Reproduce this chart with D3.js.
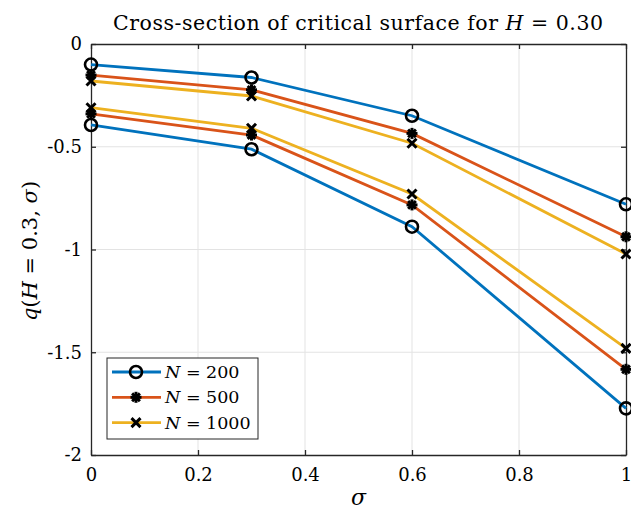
<!DOCTYPE html>
<html>
<head>
<meta charset="utf-8">
<script src="https://cdn.jsdelivr.net/npm/d3@7"></script>
<style>
body { margin: 0; background: #fff; }
text { font-family: "DejaVu Serif", "Liberation Serif", serif; fill: #000; }
</style>
</head>
<body>
<script>
// data
var sigma = [0, 0.3, 0.6, 1];
var xTicks = [0, 0.2, 0.4, 0.6, 0.8, 1];
var yTicks = [0, -0.5, -1, -1.5, -2];
var n200a = [-0.10, -0.163, -0.349, -0.78];
var n500a = [-0.151, -0.223, -0.435, -0.938];
var n1000a = [-0.18, -0.253, -0.483, -1.022];
var n1000b = [-0.31, -0.41, -0.73, -1.481];
var n500b = [-0.34, -0.443, -0.783, -1.583];
var n200b = [-0.394, -0.512, -0.889, -1.773];
var labels = ["200", "500", "1000"];

var W = 631, H = 519;
var L = 91, R = 626, T = 44, B = 455;
var colors = ["#0072BD", "#D95319", "#EDB120"];
var markers = ["o", "*", "x"];

var svg = d3.select("body").append("svg").attr("width", W).attr("height", H);
var x = d3.scaleLinear().domain([0, 1]).range([L, R]);
var y = d3.scaleLinear().domain([-2, 0]).range([B, T]);

// grid
svg.append("g").selectAll("line").data(xTicks.slice(1, -1)).enter().append("line")
  .attr("x1", d => x(d)).attr("x2", d => x(d)).attr("y1", T).attr("y2", B)
  .attr("stroke", "#e3e3e3").attr("stroke-width", 1);
svg.append("g").selectAll("line").data(yTicks.slice(1, -1)).enter().append("line")
  .attr("y1", d => y(d)).attr("y2", d => y(d)).attr("x1", L).attr("x2", R)
  .attr("stroke", "#e3e3e3").attr("stroke-width", 1);

// axes
var xa = svg.append("g").attr("transform", "translate(0," + B + ")")
  .call(d3.axisBottom(x).tickValues(xTicks).tickSizeInner(-5).tickSizeOuter(0).tickPadding(13).tickFormat(d => d));
var xt = svg.append("g").attr("transform", "translate(0," + T + ")")
  .call(d3.axisTop(x).tickValues(xTicks).tickSizeInner(-5).tickSizeOuter(0).tickFormat(""));
var ya = svg.append("g").attr("transform", "translate(" + L + ",0)")
  .call(d3.axisLeft(y).tickValues(yTicks).tickSizeInner(-5).tickSizeOuter(0).tickPadding(9).tickFormat(d => d));
var yr = svg.append("g").attr("transform", "translate(" + R + ",0)")
  .call(d3.axisRight(y).tickValues(yTicks).tickSizeInner(-5).tickSizeOuter(0).tickFormat(""));
[xa, xt, ya, yr].forEach(function(g) {
  g.selectAll("path").attr("stroke", "#262626").attr("stroke-width", 1.3);
  g.selectAll("line").attr("stroke", "#262626").attr("stroke-width", 1.3);
  g.selectAll("text").style("font-size", "18px").style("font-family", "DejaVu Serif").attr("fill", "#262626");
});

var line = d3.line().x((d, i) => x(sigma[i])).y(d => y(d));

function marker(g, type, cx, cy) {
  if (type === "o") {
    g.append("circle").attr("cx", cx).attr("cy", cy).attr("r", 6)
      .attr("fill", "none").attr("stroke", "#000").attr("stroke-width", 2.6);
  } else if (type === "*") {
    var r = 5.5;
    [0, 45, 90, 135].forEach(function(a) {
      var rad = a * Math.PI / 180;
      g.append("line").attr("x1", cx - r * Math.cos(rad)).attr("y1", cy - r * Math.sin(rad))
        .attr("x2", cx + r * Math.cos(rad)).attr("y2", cy + r * Math.sin(rad))
        .attr("stroke", "#000").attr("stroke-width", 3);
    });
    g.append("circle").attr("cx", cx).attr("cy", cy).attr("r", 3.5).attr("fill", "#000");
  } else {
    var s = 4.5;
    g.append("path").attr("d", "M" + (cx - s) + "," + (cy - s) + "L" + (cx + s) + "," + (cy + s) +
      "M" + (cx - s) + "," + (cy + s) + "L" + (cx + s) + "," + (cy - s))
      .attr("stroke", "#000").attr("stroke-width", 3);
  }
}

var series = [[n200a, 0], [n500a, 1], [n1000a, 2], [n1000b, 2], [n500b, 1], [n200b, 0]];
series.forEach(function(s) {
  var g = svg.append("g");
  g.append("path").datum(s[0]).attr("d", line).attr("fill", "none")
    .attr("stroke", colors[s[1]]).attr("stroke-width", 2.8);
  s[0].forEach(function(v, i) { marker(g, markers[s[1]], x(sigma[i]), y(v)); });
});

// title and labels
var title = svg.append("text").attr("x", 358).attr("y", 30).attr("text-anchor", "middle")
  .style("font-size", "20.5px").attr("textLength", 490).attr("lengthAdjust", "spacing");
title.append("tspan").text("Cross-section of critical surface for ");
title.append("tspan").attr("font-style", "italic").text("H");
title.append("tspan").text(" = 0.30");

svg.append("text").attr("x", x(0.5)).attr("y", 505).attr("text-anchor", "middle")
  .style("font-size", "22px").attr("font-style", "italic").text("σ");

var yl = svg.append("text").attr("transform", "translate(37," + 251 + ") rotate(-90)")
  .attr("text-anchor", "middle").style("font-size", "21px");
yl.append("tspan").attr("font-style", "italic").text("q");
yl.append("tspan").text("(");
yl.append("tspan").attr("font-style", "italic").text("H");
yl.append("tspan").text(" = 0.3, ");
yl.append("tspan").attr("font-style", "italic").text("σ");
yl.append("tspan").text(")");

// legend
var lg = svg.append("g");
lg.append("rect").attr("x", 107).attr("y", 358).attr("width", 151).attr("height", 81)
  .attr("fill", "#fff").attr("stroke", "#262626").attr("stroke-width", 1);
labels.forEach(function(lab, i) {
  var ly = 372 + i * 25.3;
  lg.append("line").attr("x1", 112).attr("x2", 161).attr("y1", ly).attr("y2", ly)
    .attr("stroke", colors[i]).attr("stroke-width", 2.8);
  marker(lg, markers[i], 136, ly);
  var t = lg.append("text").attr("x", 165).attr("y", ly + 6).style("font-size", "17.5px");
  t.append("tspan").attr("font-style", "italic").text("N");
  t.append("tspan").text(" = " + lab);
});
</script>
</body>
</html>
